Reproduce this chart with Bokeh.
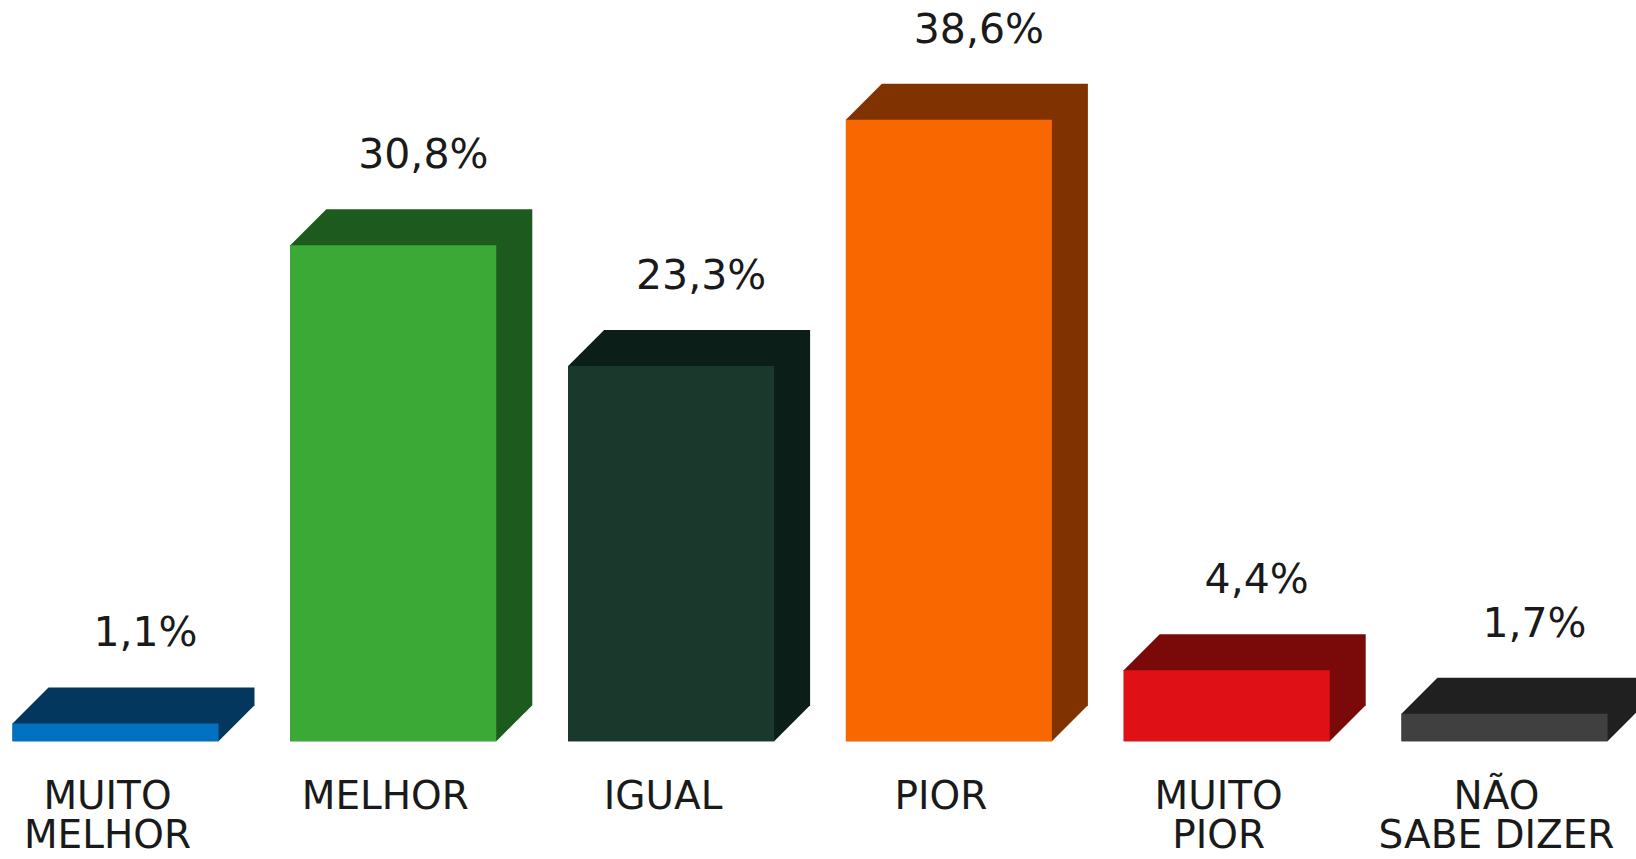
from bokeh.plotting import figure
from bokeh.models import ColumnDataSource, Range1d
from bokeh.core.properties import value
from bokeh.embed import file_html
from bokeh.resources import INLINE

categories = ["MUITO\nMELHOR", "MELHOR", "IGUAL", "PIOR", "MUITO\nPIOR", "NÃO\nSABE DIZER"]
values = [1.1, 30.8, 23.3, 38.6, 4.4, 1.7]
front_colors = ["#0070C0", "#3AA935", "#1A382C", "#F96700", "#E01116", "#404040"]
dark_colors = ["#04375E", "#1D5A1D", "#0B1E18", "#803300", "#7A0A0A", "#202020"]

W, H = 1636, 859
slot_px = 277.8
unit_px = 16.1
x0 = -115 / slot_px
y0 = -118.3 / unit_px

p = figure(width=W, height=H, output_backend="svg", toolbar_location=None,
           x_range=Range1d(x0, x0 + W / slot_px), y_range=Range1d(y0, y0 + H / unit_px),
           min_border=0)
p.axis.visible = False
p.grid.visible = False
p.outline_line_color = None
p.background_fill_color = "white"

bw = 206 / slot_px
dx = 36 / slot_px
dy = 36 / unit_px

xs_list, ys_list = [], []
for i, v in enumerate(values):
    xl, xr = i - bw / 2, i + bw / 2
    xs_list.append([xl, xl + dx, xr + dx, xr + dx, xr, xl])
    ys_list.append([v, v + dy, v + dy, dy, 0, 0])
p.patches(xs_list, ys_list, fill_color=dark_colors, line_color=None)

src = ColumnDataSource(dict(x=list(range(len(values))), top=values, color=front_colors))
p.vbar(x="x", top="top", bottom=0, width=bw, fill_color="color", line_color=None, source=src)

lab_src = ColumnDataSource(dict(
    x=[i + 30 / slot_px for i in range(len(values))],
    y=[v + dy + 55 / unit_px for v in values],
    t=[f"{v:.1f}".replace(".", ",") + "%" for v in values]))
p.text(x="x", y="y", text="t", source=lab_src, text_align="center", text_baseline="middle",
       text_font=value("DejaVu Sans"), text_font_size="41px", text_color="#1a1a1a")

cx, cy, ct = [], [], []
for i, c in enumerate(categories):
    for j, line in enumerate(c.split("\n")):
        cx.append(i - 8 / slot_px)
        cy.append(-(54 + 39 * j) / unit_px)
        ct.append(line)
p.text(x=cx, y=cy, text=ct, text_align="center", text_baseline="middle",
       text_font=value("DejaVu Sans"), text_font_size="39px", text_color="#1a1a1a")

open("out.html", "w").write(file_html(p, INLINE))
